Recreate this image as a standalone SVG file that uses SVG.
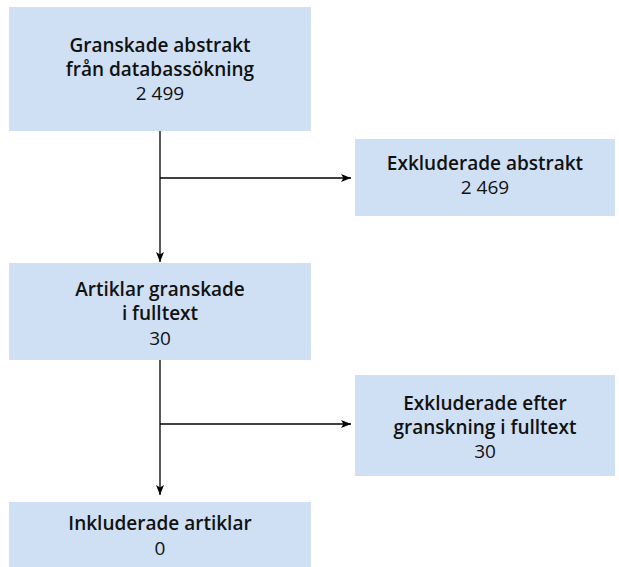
<svg xmlns="http://www.w3.org/2000/svg" width="619" height="567" viewBox="0 0 619 567">
<style>
.box{fill:#cfe0f4}
text{font-family:"Open Sans","Noto Sans","Liberation Sans",sans-serif;font-size:19px;fill:#111;text-anchor:middle}
.b{font-weight:600}
.ln{stroke:#000;stroke-width:1.3;fill:none}
</style>
<defs>
<marker id="ah" viewBox="0 0 10 8" refX="10" refY="4" markerWidth="10" markerHeight="8" markerUnits="userSpaceOnUse" orient="auto">
<path d="M0,0 L10,4 L0,8 L2.5,4 Z" fill="#000"/>
</marker>
</defs>
<g id="connectors">
<path class="ln" d="M160,131 V262" marker-end="url(#ah)"/>
<path class="ln" d="M160,178 H351" marker-end="url(#ah)"/>
<path class="ln" d="M160,360 V495" marker-end="url(#ah)"/>
<path class="ln" d="M160,424 H351" marker-end="url(#ah)"/>
</g>
<g id="n1">
<rect class="box" x="9" y="7" width="302" height="124"/>
<text x="160" y="52" class="b">Granskade abstrakt</text>
<text x="160" y="76" class="b">från databassökning</text>
<text x="160" y="100">2 499</text>
</g>
<g id="n2">
<rect class="box" x="355" y="139" width="260" height="77"/>
<text x="485" y="170" class="b">Exkluderade abstrakt</text>
<text x="485" y="194">2 469</text>
</g>
<g id="n3">
<rect class="box" x="9" y="263" width="302" height="97"/>
<text x="160" y="296" class="b">Artiklar granskade</text>
<text x="160" y="320" class="b">i fulltext</text>
<text x="160" y="345">30</text>
</g>
<g id="n4">
<rect class="box" x="355" y="375" width="260" height="101"/>
<text x="485" y="410" class="b">Exkluderade efter</text>
<text x="485" y="434" class="b">granskning i fulltext</text>
<text x="485" y="458">30</text>
</g>
<g id="n5">
<rect class="box" x="9" y="502" width="302" height="65"/>
<text x="160" y="530" class="b">Inkluderade artiklar</text>
<text x="160" y="555">0</text>
</g>
</svg>
